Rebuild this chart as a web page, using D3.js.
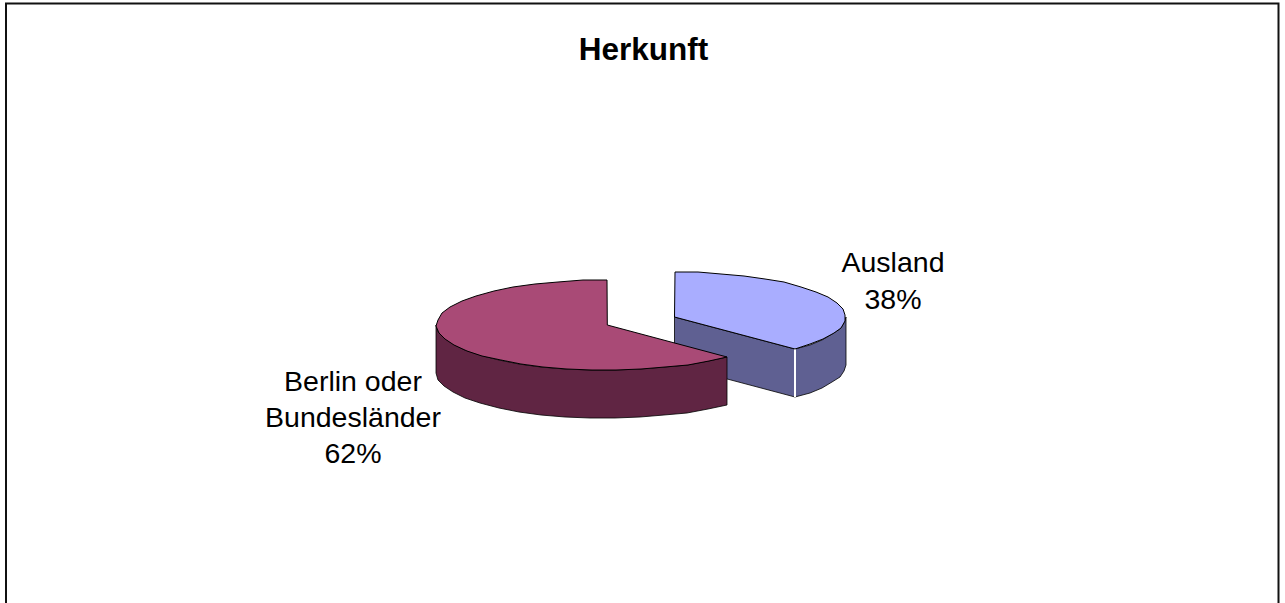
<!DOCTYPE html>
<html><head><meta charset="utf-8">
<script src="https://cdn.jsdelivr.net/npm/d3@7"></script>
<style>html,body{margin:0;padding:0;background:#fff}svg{display:block}text{font-family:"Liberation Sans",Arial,sans-serif;fill:#000}</style>
</head><body><svg id="c" width="1285" height="603"></svg>
<script>
const title = "Herkunft";
const categories = ["Ausland", "Berlin oder Bundesländer"];
const values = [37.6, 62.4];
const topColors = ["#a9adff", "#a94a76"];
const sideColors = ["#5f6092", "#602543"];
const svg = d3.select("#c");
svg.append("rect").attr("x",6).attr("y",3.5).attr("width",1272.5).attr("height",620).attr("fill","#fff").attr("stroke","#111").attr("stroke-width",2);
svg.append("text").attr("x",643.5).attr("y",59.5).attr("text-anchor","middle").attr("font-size",31.5).attr("font-weight","bold").text(title);
const rx=171, ry=45, depth=48;
const centers=[[674.5,317],[607.3,325]];
const pie=d3.pie().sort(null).value(d=>d)(values);
const pt=(c,a,dy=0)=>[Math.round(c[0]+rx*Math.sin(a)), Math.round(c[1]-ry*Math.cos(a)+dy)];
const step=Math.PI/22;
const arcPts=(c,a0,a1,dy=0)=>{const n=Math.max(2,Math.round(Math.abs(a1-a0)/step));return d3.range(0,n+1).map(i=>pt(c,a0+(a1-a0)*i/n,dy));};
const line=d3.line();
const draw=(pts,fill,sw=1)=>svg.append("path").attr("d",line(pts)+"Z").attr("fill",fill).attr("stroke","#000").attr("stroke-width",sw).attr("stroke-linejoin","round");
// Ausland
{const c=centers[0],p=pie[0],s=sideColors[0];
 const e=pt(c,p.endAngle);
 draw([c,e,[e[0],e[1]+depth],[c[0],c[1]+depth]],s,0.8);
 draw([...arcPts(c,Math.PI/2,p.endAngle),...arcPts(c,Math.PI/2,p.endAngle,depth).reverse()],s,0.8);
 svg.append("line").attr("x1",e[0]).attr("x2",e[0]).attr("y1",e[1]).attr("y2",e[1]+depth).attr("stroke","#fff").attr("stroke-width",2);
 draw([c,...arcPts(c,p.startAngle,p.endAngle)],topColors[0]);}
// Berlin
{const c=centers[1],p=pie[1],s=sideColors[1];
 draw([...arcPts(c,p.startAngle,3*Math.PI/2),...arcPts(c,p.startAngle,3*Math.PI/2,depth).reverse()],s,0.8);
 draw([c,...arcPts(c,p.startAngle,p.endAngle)],topColors[1]);}
const label=(lines,x,y,lh)=>{const t=svg.append("text").attr("text-anchor","middle").attr("font-size",28.5);
 lines.forEach((l,i)=>t.append("tspan").attr("x",x).attr("y",y+i*lh).text(l));};
const pct=values.map(v=>Math.round(v)+"%");
label([categories[0],pct[0]],893,272,37);
label(["Berlin oder","Bundesländer",pct[1]],353,391,36);
</script></body></html>
